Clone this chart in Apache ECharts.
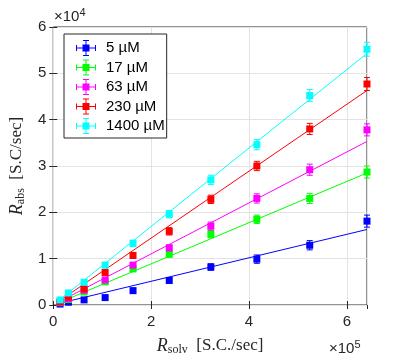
<!DOCTYPE html>
<html>
<head>
<meta charset="utf-8">
<script src="https://cdn.jsdelivr.net/npm/echarts@6/dist/echarts.min.js"></script>
<style>
html, body { margin: 0; background: #fff; }
#main { width: 407px; height: 361px; }
</style>
</head>
<body>
<div id="main"></div>
<script>
// x in units of 1e5, y in units of 1e4
var rSolv = [0.14, 0.31, 0.63, 1.06, 1.63, 2.37, 3.22, 4.16, 5.24, 6.41];
var names = ['5 µM', '17 µM', '63 µM', '230 µM', '1400 µM'];
var colors = ['#0000ff', '#00ff00', '#ff00ff', '#ff0000', '#00ffff'];

var abs5 = [0.02, 0.06, 0.11, 0.16, 0.31, 0.53, 0.82, 0.99, 1.29, 1.81];
var abs17 = [0.05, 0.12, 0.28, 0.50, 0.78, 1.10, 1.53, 1.85, 2.30, 2.87];
var abs63 = [0.06, 0.14, 0.32, 0.54, 0.86, 1.23, 1.70, 2.30, 2.92, 3.78];
var abs230 = [0.07, 0.17, 0.35, 0.70, 1.07, 1.59, 2.28, 3.00, 3.80, 4.77];
var abs1400 = [0.11, 0.26, 0.49, 0.86, 1.33, 1.96, 2.70, 3.46, 4.52, 5.52];

var err5 = [0.03, 0.03, 0.04, 0.04, 0.05, 0.06, 0.07, 0.09, 0.10, 0.13];
var err17 = [0.03, 0.03, 0.04, 0.05, 0.06, 0.07, 0.08, 0.09, 0.11, 0.13];
var err63 = [0.03, 0.03, 0.04, 0.05, 0.06, 0.07, 0.09, 0.10, 0.12, 0.13];
var err230 = [0.03, 0.03, 0.04, 0.05, 0.06, 0.08, 0.09, 0.10, 0.12, 0.14];
var err1400 = [0.03, 0.04, 0.05, 0.06, 0.07, 0.08, 0.10, 0.11, 0.13, 0.15];

// fitted lines, read at the ends
var fitX = [0.14, 6.41];
var fit5 = [0.04, 1.63];
var fit17 = [0.06, 2.85];
var fit63 = [0.08, 3.53];
var fit230 = [0.10, 4.63];
var fit1400 = [0.12, 5.43];

var xTicks = [0, 2, 4, 6];
var yTicks = [0, 1, 2, 3, 4, 5, 6];

var absAll = [abs5, abs17, abs63, abs230, abs1400];
var errAll = [err5, err17, err63, err230, err1400];
var fitAll = [fit5, fit17, fit63, fit230, fit1400];

// square with error bar cross, for the legend
var errIcon = 'path://M0,7.5H20V8.5H0Z M0,5H1V11H0Z M19,5H20V11H19Z M9.5,0H10.5V16H9.5Z M7,0H13V1H7Z M7,15H13V16H7Z M6.5,4.5H13.5V11.5H6.5Z';

var font = 'Liberation Sans';
var serif = 'Liberation Serif';

var series = [];
for (var i = 0; i < names.length; i++) {
    var fitData = [];
    for (var k = 0; k < fitX.length; k++) fitData.push([fitX[k], fitAll[i][k]]);
    series.push({
        name: 'fit' + i,
        type: 'line',
        data: fitData,
        symbol: 'none',
        lineStyle: { color: colors[i], width: 1 },
        silent: true,
        z: 2
    });
}
for (var i = 0; i < names.length; i++) {
    var errData = [];
    for (var k = 0; k < rSolv.length; k++) errData.push([rSolv[k], absAll[i][k], errAll[i][k]]);
    series.push({
        name: 'err' + i,
        type: 'custom',
        data: errData,
        z: 3,
        renderItem: (function (c) {
            return function (params, api) {
                var lo = api.coord([api.value(0), api.value(1) - api.value(2)]);
                var hi = api.coord([api.value(0), api.value(1) + api.value(2)]);
                var st = { stroke: c, lineWidth: 1 };
                return {
                    type: 'group',
                    children: [
                        { type: 'line', shape: { x1: lo[0], y1: lo[1], x2: hi[0], y2: hi[1] }, style: st },
                        { type: 'line', shape: { x1: lo[0] - 3, y1: lo[1], x2: lo[0] + 3, y2: lo[1] }, style: st },
                        { type: 'line', shape: { x1: hi[0] - 3, y1: hi[1], x2: hi[0] + 3, y2: hi[1] }, style: st }
                    ]
                };
            };
        })(colors[i])
    });
}
for (var i = 0; i < names.length; i++) {
    var pts = [];
    for (var k = 0; k < rSolv.length; k++) pts.push([rSolv[k], absAll[i][k]]);
    series.push({
        name: names[i],
        type: 'scatter',
        data: pts,
        symbol: 'rect',
        symbolSize: 7,
        itemStyle: { color: colors[i], opacity: 1 },
        z: 4
    });
}

var chart = echarts.init(document.getElementById('main'));
var option = {
    backgroundColor: '#fff',
    animation: false,
    grid: {
        left: 53, top: 27, right: 40, bottom: 55,
        show: true, borderColor: '#262626', borderWidth: 1, backgroundColor: '#fff'
    },
    legend: {
        data: names.map(function (n) { return { name: n, icon: errIcon }; }),
        orient: 'vertical',
        left: 64,
        top: 34,
        itemWidth: 20,
        itemHeight: 16,
        itemGap: 3.5,
        padding: [6, 2, 4, 12],
        borderColor: '#262626',
        borderWidth: 1,
        backgroundColor: '#fff',
        textStyle: { fontFamily: font, fontSize: 15, color: '#000', padding: [0, 0, 0, 5] }
    },
    xAxis: [{
        type: 'value',
        min: 0, max: 6.41, interval: 2,
        axisLine: { show: false },
        axisTick: { show: true, inside: true, length: 4, lineStyle: { color: '#262626' } },
        axisLabel: {
            fontFamily: font, fontSize: 15, color: '#262626', margin: 9,
            showMaxLabel: false,
            formatter: function (v) { return xTicks.indexOf(v) >= 0 ? String(v) : ''; }
        },
        splitLine: { show: true, lineStyle: { color: '#e3e3e3', width: 1 } },
        name: '{r|R}{s|solv}{u|  [S.C./sec]}',
        nameLocation: 'middle',
        nameGap: 31,
        nameTextStyle: {
            rich: {
                r: { fontFamily: serif, fontStyle: 'italic', fontSize: 18, color: '#262626' },
                s: { fontFamily: serif, fontSize: 12, color: '#262626', padding: [8, 0, 0, 0] },
                u: { fontFamily: serif, fontSize: 17, color: '#262626' }
            }
        }
    }, {
        type: 'value',
        position: 'top',
        min: 0, max: 6.41, interval: 2,
        axisLine: { show: false },
        axisTick: { show: true, inside: true, length: 4, lineStyle: { color: '#262626' } },
        axisLabel: { show: false },
        splitLine: { show: false }
    }],
    yAxis: [{
        type: 'value',
        min: 0, max: 6, interval: 1,
        axisLine: { show: false },
        axisTick: { show: true, inside: true, length: 4, lineStyle: { color: '#262626' } },
        axisLabel: {
            fontFamily: font, fontSize: 15, color: '#262626', margin: 7,
            formatter: function (v) { return yTicks.indexOf(v) >= 0 ? String(v) : ''; }
        },
        splitLine: { show: true, lineStyle: { color: '#e3e3e3', width: 1 } },
        name: '{r|R}{s|abs}{u|  [S.C/sec]}',
        nameLocation: 'middle',
        nameRotate: 90,
        nameGap: 24,
        nameTextStyle: {
            rich: {
                r: { fontFamily: serif, fontStyle: 'italic', fontSize: 18, color: '#262626' },
                s: { fontFamily: serif, fontSize: 12, color: '#262626', padding: [8, 0, 0, 0] },
                u: { fontFamily: serif, fontSize: 17, color: '#262626' }
            }
        }
    }, {
        type: 'value',
        position: 'right',
        min: 0, max: 6, interval: 1,
        axisLine: { show: false },
        axisTick: { show: true, inside: true, length: 4, lineStyle: { color: '#262626' } },
        axisLabel: { show: false },
        splitLine: { show: false }
    }],
    graphic: [{
        type: 'text',
        left: 54, top: 7,
        style: {
            text: '{a|×10}{b|4}',
            rich: {
                a: { fontFamily: font, fontSize: 15, fill: '#262626' },
                b: { fontFamily: font, fontSize: 11, fill: '#262626', padding: [0, 0, 8, 0] }
            }
        }
    }, {
        type: 'text',
        left: 329, top: 339,
        style: {
            text: '{a|×10}{b|5}',
            rich: {
                a: { fontFamily: font, fontSize: 15, fill: '#262626' },
                b: { fontFamily: font, fontSize: 11, fill: '#262626', padding: [0, 0, 8, 0] }
            }
        }
    }],
    series: series
};
chart.setOption(option);
</script>
</body>
</html>
